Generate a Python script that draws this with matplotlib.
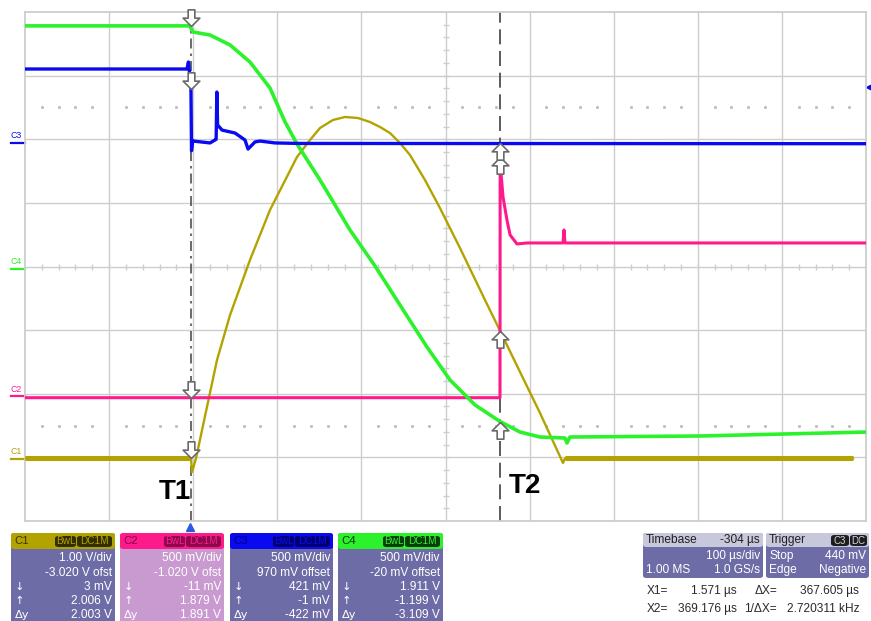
import matplotlib

matplotlib.use("Agg")

import matplotlib.pyplot as plt  # noqa: E402
import matplotlib.transforms as mtransforms  # noqa: E402
import numpy as np  # noqa: E402
from matplotlib.lines import Line2D  # noqa: E402
from matplotlib.patches import FancyBboxPatch, Rectangle  # noqa: E402
from matplotlib.path import Path  # noqa: E402

W, H = 871, 621

plt.rcParams["font.family"] = ["Liberation Sans", "DejaVu Sans"]

# --- scope settings ---
T_CENTER = 304.2  # us at screen centre (timebase -304 us)
US_PER_DIV = 100.0
T1, T2 = 1.571, 369.176

C1_SCALE, C1_OFS = 1.0, -3.020
C2_SCALE, C2_OFS = 0.5, -1.020
C3_SCALE, C3_OFS = 0.5, 0.970
C4_SCALE, C4_OFS = 0.5, -0.020
TRIG_LEVEL = 0.440  # C3

# --- traces (time us, volts) ---
C1_T = [-195.8, 1.6, 2.8, 7.5, 32.5, 48.0, 71.7, 95.5, 127.6, 143.1, 155.0, 170.4, 184.7,
        200.1, 214.4, 226.3, 238.2, 250.1, 262.0, 279.8, 297.6, 321.4, 351.2, 369.2, 392.8,
        416.6, 443.9, 446.3, 788.7]
C1_V = [0.003, 0.003, -0.210, 0.003, 1.550, 2.258, 3.122, 3.908, 4.741, 5.008, 5.197, 5.323,
        5.370, 5.354, 5.291, 5.213, 5.118, 4.961, 4.772, 4.380, 3.939, 3.311, 2.493, 2.006,
        1.362, 0.717, -0.068, 0.003, 0.003]

C2_T = [-195.8, 369.0, 369.2, 370.4, 372.6, 377.3, 381.0, 389.2, 401.1, 443.9, 445.1,
        446.3, 804.2]
C2_V = [-0.011, -0.011, 1.879, 1.739, 1.566, 1.385, 1.268, 1.197, 1.205, 1.205, 1.307,
        1.205, 1.205]

C3_T = [-195.8, -3.2, -1.5, 1.5, 2.2, 3.5, 4.0, 24.2, 30.1, 31.5, 32.3, 33.2, 38.5,
        53.9, 65.8, 69.4, 77.7, 83.6, 101.5, 131.2, 804.2]
C3_V = [0.582, 0.582, 0.637, 0.450, -0.060, 0.020, 0.016, 0.001, 0.024, 0.030, 0.401,
        0.142, 0.102, 0.079, 0.024, -0.047, 0.009, 0.016, 0.001, -0.003, -0.005]

C4_T = [-195.8, 0.0, 4.0, 24.2, 48.0, 71.7, 95.5, 113.4, 127.6, 155.0, 190.6, 220.4,
        250.1, 282.2, 309.6, 339.3, 369.2, 392.8, 416.6, 446.3, 448.7, 452.2, 606.8, 804.2]
C4_V = [1.911, 1.911, 1.863, 1.839, 1.761, 1.627, 1.423, 1.156, 0.983, 0.700, 0.307, 0.024,
        -0.283, -0.613, -0.872, -1.068, -1.199, -1.281, -1.320, -1.328, -1.367, -1.320,
        -1.312, -1.281]

# cursor readings (C1..C4) at T1 and T2
CUR_T1 = [0.003, -0.011, 0.421, 1.911]
CUR_T2 = [2.006, 1.879, -0.001, -1.199]

OLIVE = "#b3a300"
PINK = "#ff1a8c"
BLUE = "#0a0af0"
GREEN = "#2cf22c"
GRID = "#cdcdcd"
SLATE = "#6d6ca6"

CHANNELS = [
    ("C1", C1_SCALE, C1_OFS, OLIVE),
    ("C2", C2_SCALE, C2_OFS, PINK),
    ("C3", C3_SCALE, C3_OFS, BLUE),
    ("C4", C4_SCALE, C4_OFS, GREEN),
]


def to_div(v, scale, ofs):
    return (np.asarray(v, dtype=float) + ofs) / scale


def fx(x):
    return x / W


def fy(y):
    return 1 - y / H


DOWN = Path([(0, 0), (0.5, 0.5), (0.2, 0.5), (0.2, 1.0), (-0.2, 1.0), (-0.2, 0.5),
             (-0.5, 0.5), (0, 0)])
UP = Path(DOWN.vertices * [1, -1])

fig = plt.figure(figsize=(W / 100, H / 100), dpi=100, facecolor="white")
ax = fig.add_axes([fx(25), fy(521), (866 - 25) / W, (521 - 12) / H])
left = T_CENTER - 5 * US_PER_DIV
right = T_CENTER + 5 * US_PER_DIV
ax.set_xlim(left, right)
ax.set_ylim(-4, 4)
ax.set_xticks([])
ax.set_yticks([])
for s in ax.spines.values():
    s.set_color(GRID)
    s.set_linewidth(1.3)

# graticule
for i in range(1, 10):
    ax.axvline(left + i * US_PER_DIV, color=GRID, lw=1.0, zorder=0)
for j in range(-3, 4):
    ax.axhline(j, color=GRID, lw=1.0, zorder=0)
minor_x = left + np.arange(1, 50) * US_PER_DIV / 5
minor_y = np.arange(-19, 20) * 0.2
ax.plot(minor_x, np.zeros_like(minor_x), ls="none", marker="|", ms=4.5, mew=1.0,
        color=GRID, zorder=0)
ax.plot(np.full_like(minor_y, T_CENTER), minor_y, ls="none", marker="_", ms=4.5, mew=1.0,
        color=GRID, zorder=0)
dots_x = minor_x[np.arange(1, 50) % 5 != 0]
for yy in (2.5, -2.5):
    ax.plot(dots_x, np.full_like(dots_x, yy), ls="none", marker="s", ms=1.1,
            color="#c0c0c0", zorder=0)

# cursors
ax.axvline(T1, color="#505050", lw=1.2, ls=(0, (6, 3, 1.5, 3)), zorder=1)
ax.axvline(T2, color="#404040", lw=1.2, ls=(0, (9, 4)), zorder=1)

# traces
ax.plot(C1_T, to_div(C1_V, C1_SCALE, C1_OFS), color=OLIVE, lw=1.7, zorder=3)
ax.plot(C1_T[:2], to_div(C1_V[:2], C1_SCALE, C1_OFS), color=OLIVE, lw=3.6, zorder=3,
        solid_capstyle="butt")
ax.plot(C1_T[-2:], to_div(C1_V[-2:], C1_SCALE, C1_OFS), color=OLIVE, lw=3.6, zorder=3,
        solid_capstyle="butt")
ax.plot(C2_T, to_div(C2_V, C2_SCALE, C2_OFS), color=PINK, lw=2.2, zorder=3)
ax.plot(C4_T, to_div(C4_V, C4_SCALE, C4_OFS), color=GREEN, lw=2.6, zorder=3)
ax.plot(C3_T, to_div(C3_V, C3_SCALE, C3_OFS), color=BLUE, lw=2.4, zorder=4)

# cursor arrows
for (name, sc, of, col), v1, v2 in zip(CHANNELS, CUR_T1, CUR_T2):
    ax.plot([T1], [to_div(v1, sc, of)], marker=DOWN, ms=24, mfc="white", mec="#6a6a6a",
            mew=1.2, ls="none", zorder=6, clip_on=False)
    ax.plot([T2], [to_div(v2, sc, of)], marker=UP, ms=24, mfc="white", mec="#6a6a6a",
            mew=1.2, ls="none", zorder=6, clip_on=False)

# ground markers on the left
blend = mtransforms.blended_transform_factory(ax.transAxes, ax.transData)
for name, sc, of, col in CHANNELS:
    g = to_div(0.0, sc, of)
    ax.add_line(Line2D([-0.017, 0.0], [g, g], transform=blend, color=col, lw=1.6,
                       clip_on=False))
    ax.annotate(name, xy=(-0.011, g), xycoords=blend, xytext=(0, 2),
                textcoords="offset points", ha="center", va="bottom", fontsize=6.3,
                color=col, annotation_clip=False)

# trigger level / position markers
ax.plot([1.004], [to_div(TRIG_LEVEL, C3_SCALE, C3_OFS)], transform=blend, marker="<",
        ms=4, color=BLUE, clip_on=False)
blend_x = mtransforms.blended_transform_factory(ax.transData, ax.transAxes)
ax.plot([0.0], [-0.012], transform=blend_x, marker="^", ms=6, color="#2a5ae0",
        clip_on=False)

ax.text(T1, -3.55, "T1", ha="right", va="center", fontsize=20, fontweight="bold",
        color="black", zorder=7)
ax.text(T2 + 10, -3.45, "T2", ha="left", va="center", fontsize=20, fontweight="bold",
        color="black", zorder=7)


# --- readout panels ---
def box(x0, y0, x1, y1, color, rounded=True):
    if rounded:
        p = FancyBboxPatch((fx(x0), fy(y1)), fx(x1 - x0), (y1 - y0) / H,
                           boxstyle="round,pad=0,rounding_size=0.004",
                           transform=fig.transFigure, facecolor=color,
                           edgecolor="none")
    else:
        p = Rectangle((fx(x0), fy(y1)), fx(x1 - x0), (y1 - y0) / H,
                      transform=fig.transFigure, facecolor=color, edgecolor="none")
    fig.add_artist(p)


def ftext(x, y, s, ha="left", color="white", size=8.6, **kw):
    fig.text(fx(x), fy(y), s, ha=ha, va="center", color=color, fontsize=size, **kw)


PANELS = [
    (11, 115, "C1", OLIVE, SLATE, "#3a3400", "#332e00",
     [("", "1.00 V/div"), ("", "-3.020 V ofst"), ("\u2193", "3 mV"),
      ("\u2191", "2.006 V"), ("\u0394y", "2.003 V")]),
    (120, 224, "C2", PINK, "#c99ad0", "#7a0a45", "#8a0a4c",
     [("", "500 mV/div"), ("", "-1.020 V ofst"), ("\u2193", "-11 mV"),
      ("\u2191", "1.879 V"), ("\u0394y", "1.891 V")]),
    (230, 333, "C3", BLUE, SLATE, "#000080", "#000070",
     [("", "500 mV/div"), ("", "970 mV offset"), ("\u2193", "421 mV"),
      ("\u2191", "-1 mV"), ("\u0394y", "-422 mV")]),
    (338, 443, "C4", GREEN, SLATE, "#0a3a0a", "#0c3c0c",
     [("", "500 mV/div"), ("", "-20 mV offset"), ("\u2193", "1.911 V"),
      ("\u2191", "-1.199 V"), ("\u0394y", "-3.109 V")]),
]
ROW_Y = [558, 573, 587, 601, 615]

for x0, x1, name, head, body, dark, badge, rows in PANELS:
    box(x0, 533, x1, 630, body)
    box(x0, 533, x1, 549, head)
    ftext(x0 + 3, 541, name, color=dark, size=8.2)
    box(x1 - 60, 536, x1 - 39, 547, badge)
    box(x1 - 38, 536, x1 - 3, 547, badge)
    ftext(x1 - 49.5, 541.5, "BwL", ha="center", color=head, size=7.2)
    ftext(x1 - 20.5, 541.5, "DC1M", ha="center", color=head, size=7.2)
    for (sym, val), yy in zip(rows, ROW_Y):
        ftext(x1 - 3, yy, val, ha="right")
        if sym:
            ftext(x0 + 4, yy, sym, size=8.2, family="DejaVu Sans")

# timebase / trigger
box(643, 533, 763, 578, SLATE)
box(643, 533, 763, 547, "#c8c8dc")
ftext(646, 540, "Timebase", color="#202020")
ftext(760, 540, "-304 \u00b5s", ha="right", color="#202020")
ftext(760, 556, "100 \u00b5s/div", ha="right")
ftext(646, 570, "1.00 MS")
ftext(760, 570, "1.0 GS/s", ha="right")

box(766, 533, 869, 578, SLATE)
box(766, 533, 869, 547, "#c8c8dc")
ftext(769, 540, "Trigger", color="#202020")
box(831, 535, 849, 546, "#1e1e1e")
box(850, 535, 867, 546, "#1e1e1e")
ftext(840, 540.5, "C3", ha="center", color="#d8d8d8", size=7)
ftext(858.5, 540.5, "DC", ha="center", color="#d8d8d8", size=7)
ftext(769, 556, "Stop")
ftext(866, 556, "440 mV", ha="right")
ftext(769, 570, "Edge")
ftext(866, 570, "Negative", ha="right")

DARK = "#2a2a2a"
ftext(647, 591, "X1=", color=DARK)
ftext(737, 591, "1.571 \u00b5s", ha="right", color=DARK)
ftext(777, 591, "\u0394X=", ha="right", color=DARK)
ftext(859, 591, "367.605 \u00b5s", ha="right", color=DARK)
ftext(647, 609, "X2=", color=DARK)
ftext(737, 609, "369.176 \u00b5s", ha="right", color=DARK)
ftext(777, 609, "1/\u0394X=", ha="right", color=DARK)
ftext(860, 609, "2.720311 kHz", ha="right", color=DARK)

fig.savefig("out.png", dpi=100, facecolor="white")
